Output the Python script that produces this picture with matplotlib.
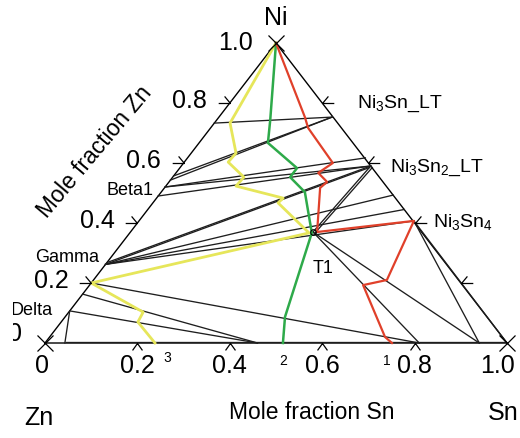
import matplotlib
matplotlib.use("Agg")
import matplotlib.pyplot as plt
from matplotlib.path import Path
from matplotlib.patches import Rectangle

plt.rcParams['font.family'] = ['Liberation Sans', 'DejaVu Sans']
plt.rcParams['mathtext.fontset'] = 'custom'
plt.rcParams['mathtext.rm'] = 'Liberation Sans'
plt.rcParams['mathtext.it'] = 'Liberation Sans:italic'

# compositions are (x_Sn, x_Ni); x_Zn is the rest
ticks = [0.2, 0.4, 0.6, 0.8]
tick_labels = ['0.2', '0.4', '0.6', '0.8']

# isothermal path lines 1, 2, 3
yellow_sn = [0, 0.034, 0.097, 0.095, 0.154, 0.152, 0.274, 0.271, 0.388, 0.0, 0.161, 0.166, 0.238]
yellow_ni = [1, 0.733, 0.633, 0.603, 0.553, 0.523, 0.483, 0.467, 0.367, 0.2, 0.103, 0.07, 0]
green_sn = [0, 0.116, 0.149, 0.254, 0.254, 0.311, 0.394, 0.476, 0.515]
green_ni = [1, 0.743, 0.667, 0.583, 0.553, 0.503, 0.367, 0.087, 0]
red_sn = [0, 0.186, 0.211, 0.323, 0.308, 0.342, 0.337, 0.404, 0.595, 0.635, 0.592, 0.726, 0.751]
red_ni = [1, 0.753, 0.717, 0.6, 0.567, 0.537, 0.517, 0.37, 0.407, 0.21, 0.193, 0.02, 0]

# tie lines: start and end compositions (x_Sn, x_Ni)
tie_start = [(0, 0.733), (0, 0.557), (0, 0.543), (0, 0.52), (0, 0.52), (0, 0.49),
             (0, 0.268), (0, 0.262), (0, 0.262), (0, 0.262), (0, 0.262),
             (0.395, 0.37), (0.401, 0.366), (0.395, 0.37), (0.395, 0.37),
             (0.595, 0.407), (0.595, 0.407),
             (0, 0.2), (0, 0.163), (0, 0.107), (0, 0.107), (0.043, 0.005)]
tie_end = [(0.245, 0.753), (0.245, 0.753), (0.245, 0.753), (0.385, 0.617), (0.41, 0.59), (0.41, 0.59),
           (0.41, 0.59), (0.41, 0.585), (0.507, 0.493), (0.555, 0.445), (0.595, 0.407),
           (0.41, 0.59), (0.416, 0.585), (0.81, 0), (0.94, 0),
           (0.94, 0), (1.0, 0),
           (0.81, 0), (0.46, 0), (0.46, 0), (0.043, 0), (0.995, 0.005)]


def tern(xsn, xni):
    xsn = [xsn] if not hasattr(xsn, '__len__') else xsn
    xni = [xni] if not hasattr(xni, '__len__') else xni
    return [s + 0.5 * n for s, n in zip(xsn, xni)], list(xni)


fig = plt.figure(figsize=(5.2, 4.38), dpi=100)
ax = fig.add_axes([45 / 520, 95 / 438, 462 / 520, 300 / 438])
ax.set_xlim(0, 1)
ax.set_ylim(0, 1)
ax.axis('off')

# triangle frame
fx, fy = tern([0, 1, 0, 0], [0, 0, 1, 0])
ax.plot(fx, fy, color='black', lw=1.0, clip_on=False)

for a, b in zip(tie_start, tie_end):
    x, y = tern([a[0], b[0]], [a[1], b[1]])
    ax.plot(x, y, color='#1e1e1e', lw=0.95, clip_on=False)

x, y = tern(yellow_sn, yellow_ni)
ax.plot(x, y, color='#e6e65a', lw=2.0, clip_on=False)
x, y = tern(green_sn, green_ni)
ax.plot(x, y, color='#2eaa4a', lw=1.8, clip_on=False)
x, y = tern(red_sn, red_ni)
ax.plot(x, y, color='#e0402a', lw=1.6, clip_on=False)

x, y = tern(0.395, 0.37)
ax.plot(x, y, 'o', mfc='none', mec='black', ms=4, mew=0.8)

# tick marks
M, L = Path.MOVETO, Path.LINETO
left_tick = Path([(0, 0), (-1, 0), (0, 0), (-0.5, 0.6)], [M, L, M, L])
right_tick = Path([(0, 0), (1, 0), (0, 0), (0.5, 0.6)], [M, L, M, L])
bottom_tick = Path([(0, 0), (-0.5, -0.7), (0, 0), (0.5, -0.7)], [M, L, M, L])

for t, lab in zip(ticks, tick_labels):
    x, y = tern(0, t)
    ax.plot(x, y, marker=left_tick, ms=17, mfc='none', mec='black', mew=0.9, clip_on=False)
    ax.annotate(lab, (x[0], y[0]), xytext=(-40, 2), textcoords='offset pixels',
                ha='center', va='center', fontsize=18)
    x, y = tern(1 - t, t)
    ax.plot(x, y, marker=right_tick, ms=17, mfc='none', mec='black', mew=0.9, clip_on=False)
    x, y = tern(t, 0)
    ax.plot(x, y, marker=bottom_tick, ms=10, mfc='none', mec='black', mew=0.9, clip_on=False)
    ax.annotate(lab, (x[0], y[0]), xytext=(0, -23), textcoords='offset pixels',
                ha='center', va='center', fontsize=18)

cx, cy = tern([0, 1, 0], [0, 0, 1])
ax.plot(cx, cy, 'x', color='black', ms=11, mew=0.9, clip_on=False)

ax.annotate('1.0', (0.5, 1), xytext=(-40, 0), textcoords='offset pixels',
            ha='center', va='center', fontsize=18)
ax.annotate('0', (0, 0), xytext=(-30, 9), textcoords='offset pixels',
            ha='center', va='center', fontsize=18)
ax.annotate('0', (0, 0), xytext=(-3, -23), textcoords='offset pixels',
            ha='center', va='center', fontsize=18)
ax.annotate('1.0', (1, 0), xytext=(-9, -23), textcoords='offset pixels',
            ha='center', va='center', fontsize=18)

# corner and axis titles
ax.text(0.5, 1.083, 'Ni', ha='center', va='center', fontsize=18)
ax.text(-0.013, -0.25, 'Zn', ha='center', va='center', fontsize=18)
ax.text(0.991, -0.233, 'Sn', ha='center', va='center', fontsize=18)
ax.text(0.578, -0.233, 'Mole fraction Sn', ha='center', va='center', fontsize=16.5)
ax.text(0.108, 0.637, 'Mole fraction Zn', ha='center', va='center', fontsize=16.5,
        rotation=50, rotation_mode='anchor')

# phase labels
ax.text(0.675, 0.783, r'Ni$_3$Sn_LT', ha='left', va='baseline', fontsize=14)
ax.text(0.747, 0.57, r'Ni$_3$Sn$_2$_LT', ha='left', va='baseline', fontsize=14)
ax.text(0.840, 0.387, r'Ni$_3$Sn$_4$', ha='left', va='baseline', fontsize=14)
ax.text(0.580, 0.233, 'T1', ha='left', va='baseline', fontsize=13)
ax.text(0.134, 0.493, 'Beta1', ha='left', va='baseline', fontsize=13)
ax.text(-0.0216, 0.27, 'Gamma', ha='left', va='baseline', fontsize=13)
ax.text(0.0173, 0.093, 'Delta', ha='right', va='baseline', fontsize=13)
ax.text(0.264, -0.05, '3', ha='center', va='center', fontsize=10)
ax.text(0.515, -0.06, '2', ha='center', va='center', fontsize=10)
ax.text(0.740, -0.06, '1', ha='center', va='center', fontsize=10)

# blank strip at the left edge of the original figure
fig.patches.append(Rectangle((0, 0), 13 / 520, 1, transform=fig.transFigure,
                             facecolor='white', edgecolor='none', zorder=10))

fig.savefig('out.png', dpi=100)
